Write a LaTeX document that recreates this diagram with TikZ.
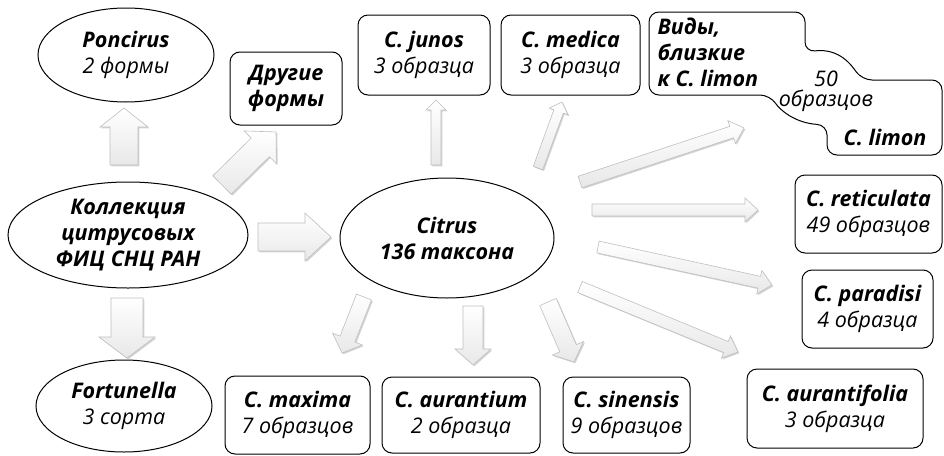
\documentclass[tikz,border=0pt]{standalone}
\usepackage{fontspec}
\setmainfont{Open Sans}
\usetikzlibrary{shapes.geometric,shadows}
\newcommand\BI{\bfseries\itshape}
\newcommand\RI{\mdseries\itshape}
% tail point, angle, length, shaft half width, head half width, head length
\newcommand\blockarrow[6]{%
  \begin{scope}[shift={(#1)}, rotate=#2]
    \draw[barr] (0,-#4) -- ({#3-#6},-#4) -- ({#3-#6},-#5) -- (#3,0)
      -- ({#3-#6},#5) -- ({#3-#6},#4) -- (0,#4) -- cycle;
  \end{scope}}
\begin{document}
\begin{tikzpicture}[x=1pt,y=-1pt,
  txt/.style={font=\fontsize{21.5}{26}\selectfont, align=center},
  ell/.style={ellipse, draw, line width=1pt, inner sep=0pt, txt},
  box/.style={rectangle, rounded corners=10pt, draw, line width=1pt, inner sep=0pt, txt},
  barr/.style={draw=gray!50, line width=0.6pt, line join=miter,
    top color=white, bottom color=gray!18,
    drop shadow={shadow xshift=1.3pt, shadow yshift=-1.3pt, opacity=0.35}}]
\useasboundingbox (0,0) rectangle (944,455);

% ellipses
\node[ell, minimum width=176, minimum height=94] (ponc) at (126,55) {\BI Poncirus\\\RI 2 формы};
\node[ell, minimum width=240, minimum height=106] (koll) at (128,235) {\BI Коллекция\\\BI цитрусовых\\\BI ФИЦ СНЦ РАН};
\node[ell, minimum width=214, minimum height=120] (citr) at (447,238) {\BI Citrus\\\BI 136 таксона};
\node[ell, minimum width=176, minimum height=92] (fort) at (124,406) {\BI Fortunella\\\RI 3 сорта};

% boxes
\node[box, minimum width=112, minimum height=73] (other) at (286,88.5) {\BI Другие\\\BI формы};
\node[box, minimum width=132, minimum height=80] (juno) at (424,55) {\BI C. junos\\\RI 3 образца};
\node[box, minimum width=139, minimum height=80] (medi) at (570.5,55) {\BI C. medica\\\RI 3 образца};
\node[box, minimum width=147, minimum height=78] (reti) at (868.5,214) {\BI C. reticulata\\\RI 49 образцов};
\node[box, minimum width=131, minimum height=78] (para) at (867.5,309) {\BI C. paradisi\\\RI 4 образца};
\node[box, minimum width=176, minimum height=79] (aufo) at (835,408.5) {\BI C. aurantifolia\\\RI 3 образца};
\node[box, minimum width=145, minimum height=78] (maxi) at (297.5,415) {\BI C. maxima\\\RI 7 образцов};
\node[box, minimum width=158, minimum height=76] (aura) at (461,415) {\BI C. aurantium\\\RI 2 образца};
\node[box, minimum width=127, minimum height=76] (sine) at (626.5,415) {\BI C. sinensis\\\RI 9 образцов};

% limon shape
\draw[line width=1pt, rounded corners=10pt]
  (649,50) -- (649,12) -- (805,12) -- (805,52)
  .. controls (840,48) and (852,66) .. (862,80)
  -- (942,80) -- (942,155) -- (827,155) -- (827,125)
  .. controls (795,123) and (780,110) .. (770,95)
  -- (649,95) -- cycle;
\node[txt, anchor=west, align=left] (vidt) at (654,52) {\BI Виды,\\\BI близкие\\\BI к C. limon};
\node[txt, font=\fontsize{21.5}{20}\selectfont] (vidn) at (826,91) {\RI 50\\\RI образцов};
\node[txt] (vidl) at (885,137) {\BI C. limon};

% arrows
\blockarrow{124,165}{90}{57}{14}{24}{19}
\blockarrow{127,298}{-90}{60}{16}{28}{21}
\blockarrow{222,185}{44.5}{75.7}{13}{23}{22}
\blockarrow{258,237}{0}{73}{14}{24}{26}
\blockarrow{436,165}{90}{65}{5}{10}{10}
\blockarrow{538,168}{70}{70.2}{5}{10}{10}
\blockarrow{580,182}{18.23}{172.7}{6}{12}{13}
\blockarrow{592,210}{0}{166}{6}{12}{13}
\blockarrow{598,247}{-12.32}{178.1}{6}{12}{13}
\blockarrow{580,287}{-22.36}{170.8}{6}{12}{13}
\blockarrow{364,297}{-111.45}{60.2}{8}{16}{15}
\blockarrow{473,306}{-90}{59}{10}{18}{16}
\blockarrow{548,302}{-66.57}{65.4}{9}{17}{15}
\end{tikzpicture}
\end{document}
